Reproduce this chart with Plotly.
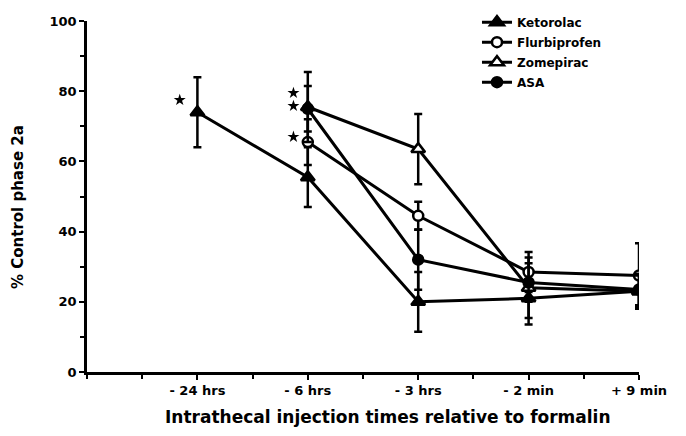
import plotly.graph_objects as go

tick_labels = ["- 24 hrs", "- 6 hrs", "- 3 hrs", "- 2 min", "+ 9 min"]

keto_x = [1, 2, 3, 4, 5]
keto_y = [74, 55.5, 20, 21, 23]
keto_err = [10, 8.5, 8.5, 7.5, 5]

flurbi_x = [2, 3, 4, 5]
flurbi_y = [65.5, 44.5, 28.5, 27.5]
flurbi_err = [6.5, 4, 5.7, 9.2]

zome_x = [2, 3, 4, 5]
zome_y = [75.5, 63.5, 24, 23]
zome_err = [10, 10, 8.6, 4.5]

asa_x = [2, 3, 4, 5]
asa_y = [75, 32, 25.5, 23.5]
asa_err = [6.5, 8.6, 5.5, 4.5]

star_x = [0.84, 1.87, 1.87, 1.87]
star_y = [77.5, 79.5, 75.8, 67]

FONT = "DejaVu Sans"
BLACK = "black"

fig = go.Figure()

def add_series(name, x, y, err, symbol, fill):
    fig.add_trace(go.Scatter(
        x=x, y=y, name=name, mode="lines+markers",
        line=dict(color=BLACK, width=3),
        marker=dict(symbol=symbol, size=12 if "triangle" in symbol else 10,
                    color=fill, line=dict(color=BLACK, width=2.5)),
        error_y=dict(type="data", array=err, visible=True, color=BLACK,
                     thickness=2.5, width=4),
        legendgroup=name,
    ))

add_series("Ketorolac", keto_x, keto_y, keto_err, "triangle-up", BLACK)
add_series("Flurbiprofen", flurbi_x, flurbi_y, flurbi_err, "circle", "white")
add_series("Zomepirac", zome_x, zome_y, zome_err, "triangle-up", "white")
add_series("ASA", asa_x, asa_y, asa_err, "circle", BLACK)

fig.add_trace(go.Scatter(
    x=star_x, y=star_y, mode="markers", showlegend=False,
    marker=dict(symbol="star", size=9, color=BLACK),
))

fig.update_layout(
    width=686, height=436,
    margin=dict(l=87, r=47, t=21, b=64, autoexpand=False),
    paper_bgcolor="white", plot_bgcolor="white",
    font=dict(family=FONT, color=BLACK, size=13, weight="bold"),
    showlegend=True,
    legend=dict(x=0.7065, y=1.038, xanchor="left", yanchor="top",
                bgcolor="rgba(0,0,0,0)", font=dict(size=12, family=FONT, weight="bold"),
                tracegroupgap=1),
    annotations=[
        dict(text="Intrathecal injection times relative to formalin",
             x=0.545, y=-0.128, xref="paper", yref="paper",
             xanchor="center", yanchor="middle", showarrow=False,
             font=dict(size=17, family=FONT, weight="bold", color=BLACK)),
        dict(text="% Control phase 2a", textangle=-90,
             x=-0.125, y=0.47, xref="paper", yref="paper",
             xanchor="center", yanchor="middle", showarrow=False,
             font=dict(size=15, family=FONT, weight="bold", color=BLACK)),
    ],
)

fig.update_xaxes(
    range=[0, 5], tickvals=[1, 2, 3, 4, 5], ticktext=tick_labels, automargin=False,
    showgrid=False, zeroline=False, showline=True, linecolor=BLACK, linewidth=2.5,
    ticks="outside", ticklen=5, tickwidth=2, tickcolor=BLACK,
    minor=dict(dtick=0.5, tick0=0, ticks="outside", ticklen=4, tickwidth=2, tickcolor=BLACK),
    tickfont=dict(size=13, family=FONT, weight="bold"),
)
fig.update_yaxes(
    range=[0, 100], tickvals=[0, 20, 40, 60, 80, 100], automargin=False,
    showgrid=False, zeroline=False, showline=True, linecolor=BLACK, linewidth=2.5,
    ticks="outside", ticklen=5, tickwidth=2, tickcolor=BLACK,
    minor=dict(dtick=10, tick0=0, ticks="outside", ticklen=4, tickwidth=2, tickcolor=BLACK),
    tickfont=dict(size=13, family=FONT, weight="bold"),
)

fig.write_html("out.html", config={"displayModeBar": False},
               post_script="document.body.style.margin='0px';")
